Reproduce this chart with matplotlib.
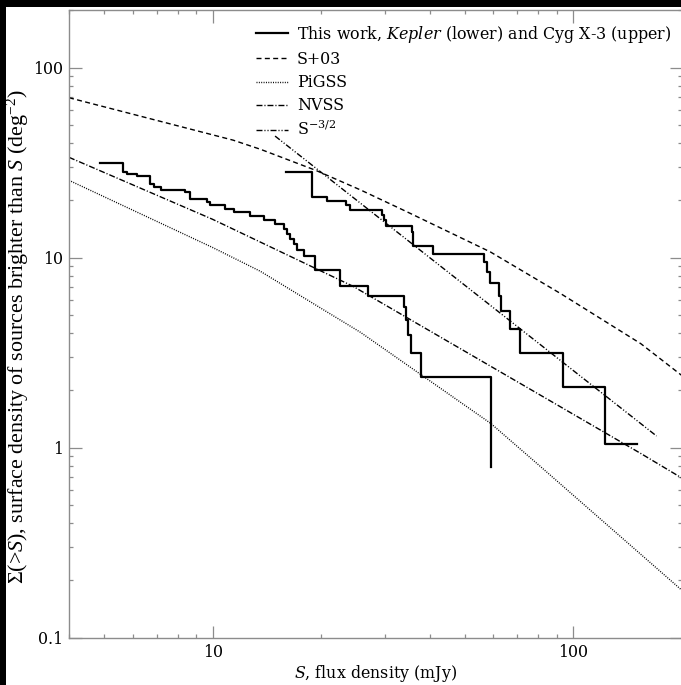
import numpy as np
import matplotlib
matplotlib.use("Agg")
import matplotlib.pyplot as plt
from matplotlib.patches import Rectangle
from matplotlib.font_manager import FontProperties

plt.rcParams["mathtext.fontset"] = "custom"
plt.rcParams["mathtext.rm"] = "Liberation Serif"
plt.rcParams["mathtext.it"] = "Liberation Serif:italic"
plt.rcParams["mathtext.bf"] = "Liberation Serif:bold"

# ---------------- data (S in mJy, surface density in deg^-2) ----------------
s03_S = [4.0, 11.4, 13.6, 19.3, 25.7, 34.6, 58.9, 92.2, 153.8, 200.0]
s03_N = [69.4, 41.5, 37.1, 28.8, 22.7, 17.4, 10.7, 6.46, 3.52, 2.39]

pigss_S = [4.0, 10.0, 13.56, 25.7, 38.4, 59.0, 81.0, 200.0]
pigss_N = [25.5, 11.3, 8.47, 4.04, 2.37, 1.34, 0.795, 0.177]

nvss_S = [4.0, 10.0, 24.5, 153.8, 200.0]
nvss_N = [33.7, 15.9, 7.06, 0.93, 0.69]

euclid_S = [14.9, 170.0]
euclid_N = [43.6, 1.15]

# Kepler field (lower): step positions and cumulative source counts
kep_unit = 0.786
kep_S = [4.88, 5.64, 5.79, 6.19, 6.72, 6.86, 7.19, 8.40, 8.67, 9.65, 9.85,
         10.84, 11.44, 12.72, 13.85, 14.93, 15.81, 16.09, 16.43, 16.78, 17.15,
         17.89, 19.28, 22.6, 26.9, 33.9, 34.4, 34.8, 35.5, 37.7, 59.0, 59.2]
kep_n = [40, 36, 35, 34, 31, 30, 29, 28, 26, 25, 24,
         23, 22, 21, 20, 19, 18, 17, 16, 15, 14,
         13, 11, 9, 8, 7, 6, 5, 4, 3, 2, 1]

# Cyg X-3 field (upper)
cyg_unit = 1.047
cyg_S = [16.0, 18.9, 20.8, 23.5, 24.0, 29.5, 29.9, 30.3, 35.6, 36.0, 40.9,
         56.5, 57.7, 58.7, 62.4, 63.1, 66.7, 71.1, 93.8, 122.1, 150.5]
cyg_n = [27, 20, 19, 18, 17, 16, 15, 14, 13, 11, 10,
         9, 8, 7, 6, 5, 4, 3, 2, 1, 1]

xlim = (4.0, 200.0)
ylim = (0.1, 200.0)

# ---------------- figure ----------------
W, H = 681, 685
fig = plt.figure(figsize=(W / 100, H / 100), dpi=100)
fig.patch.set_facecolor("white")
fig.patches.append(Rectangle((0, 0), 6 / W, 1, transform=fig.transFigure,
                             facecolor="black", edgecolor="none", zorder=10))
fig.patches.append(Rectangle((0, 1 - 7 / H), 1, 7 / H, transform=fig.transFigure,
                             facecolor="black", edgecolor="none", zorder=10))

ax_l, ax_r, ax_t, ax_b = 69, 682, 10.4, 637.5
ax = fig.add_axes([ax_l / W, 1 - ax_b / H, (ax_r - ax_l) / W, (ax_b - ax_t) / H])
ax.set_xscale("log")
ax.set_yscale("log")
ax.set_xlim(*xlim)
ax.set_ylim(*ylim)

fs = 11.4
fp_main = FontProperties(family="DejaVu Serif", size=fs, math_fontfamily="dejavuserif")
fp_ylab = FontProperties(family="Liberation Serif", size=15.8, math_fontfamily="custom")

lw = 1.0
ax.plot(kep_S, np.array(kep_n) * kep_unit, color="black", lw=1.6,
        drawstyle="steps-post",
        label="This work, $\\it{Kepler}$ (lower) and Cyg X-3 (upper)")
ax.plot(cyg_S, np.array(cyg_n) * cyg_unit, color="black", lw=1.6,
        drawstyle="steps-post")
ax.plot(s03_S, s03_N, color="black", lw=lw, dashes=(3.6, 2.4), label="S+03")
ax.plot(pigss_S, pigss_N, color="black", lw=1.0, dashes=(0.7, 1.0), label="PiGSS")
ax.plot(nvss_S, nvss_N, color="black", lw=lw, dashes=(4.3, 1.4, 0.8, 1.4),
        label="NVSS")
ax.plot(euclid_S, euclid_N, color="black", lw=lw,
        dashes=(4.3, 1.4, 0.8, 1.4, 0.8, 1.4), label="S$^{-3/2}$")

grey = "#8c8c8c"
for sp in ax.spines.values():
    sp.set_color(grey)
    sp.set_linewidth(1.0)
ax.tick_params(which="both", direction="in", top=True, right=True,
               color=grey, width=0.9)
ax.tick_params(which="major", length=9)
ax.tick_params(which="minor", length=3.2)
ax.tick_params(axis="x", which="major", pad=5)
ax.tick_params(axis="y", which="major", pad=4)
ax.set_xticks([10, 100])
ax.set_xticklabels(["10", "100"], fontproperties=fp_main)
ax.set_yticks([0.1, 1, 10, 100])
ax.set_yticklabels(["0.1", "1", "10", "100"], fontproperties=fp_main)

ax.set_xlabel("$\\it{S}$, flux density (mJy)", fontproperties=fp_main,
              labelpad=1)
ax.set_ylabel("$\\Sigma$(>$\\it{S}$), surface density of sources brighter than "
              "$\\it{S}$ (deg$^{-2}$)", fontproperties=fp_ylab)
ax.yaxis.set_label_coords(-(69 - 31) / (ax_r - ax_l), 1 - (337 - ax_t) / (ax_b - ax_t))

leg = ax.legend(loc="upper left",
                bbox_to_anchor=((243 - ax_l) / (ax_r - ax_l), 1.0),
                frameon=False, handlelength=2.0, handletextpad=0.55,
                labelspacing=0.39, borderaxespad=0.45, prop=fp_main)

fig.savefig("out.png", dpi=100, facecolor=fig.get_facecolor())
